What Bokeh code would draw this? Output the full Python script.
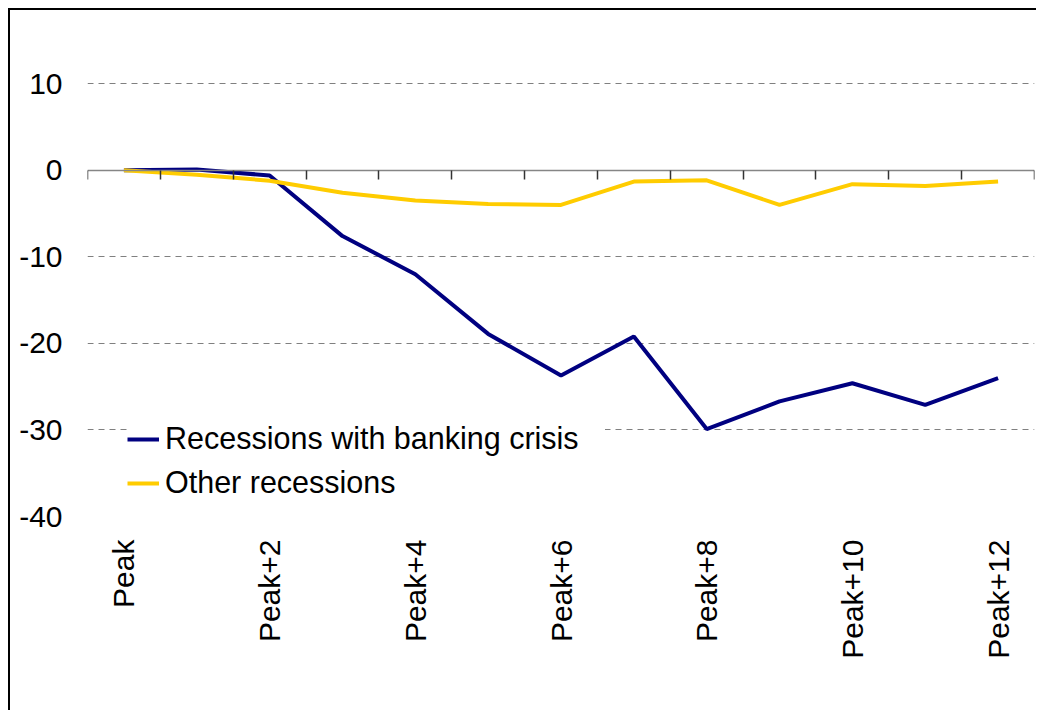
import math
from bokeh.plotting import figure
from bokeh.models import (Range1d, LinearAxis, FixedTicker, Legend, LegendItem)
from bokeh.embed import file_html
from bokeh.resources import INLINE

categories = ["Peak", "Peak+1", "Peak+2", "Peak+3", "Peak+4", "Peak+5", "Peak+6",
              "Peak+7", "Peak+8", "Peak+9", "Peak+10", "Peak+11", "Peak+12"]
banking_crisis = [0.0, 0.1, -0.6, -7.6, -12.0, -18.9, -23.7, -19.2, -29.9, -26.7, -24.6, -27.1, -24.0]
other_recessions = [0.0, -0.5, -1.2, -2.6, -3.5, -3.9, -4.0, -1.3, -1.15, -4.0, -1.6, -1.8, -1.3]
y_ticks = [-40, -30, -20, -10, 0, 10]
grid_ticks = [-40, -30, -20, -10, 10]

FONT = "Liberation Sans"
n = len(categories)
xs = [i + 0.5 for i in range(n)]

p = figure(width=1028, height=702, output_backend="svg", toolbar_location=None,
           x_range=Range1d(0, n), y_range=Range1d(-40, 15),
           x_axis_location=None, y_axis_location=None,
           min_border_left=77, min_border_right=4, min_border_top=30, min_border_bottom=196)
p.styles = {"border-left": "2px solid black", "border-top": "2px solid black",
            "margin-left": "8px", "margin-top": "8px"}
p.outline_line_color = None
p.background_fill_color = "white"
p.border_fill_color = "white"

# y axis (labels only)
yax = LinearAxis(ticker=FixedTicker(ticks=y_ticks),
                 major_label_overrides={v: str(v) for v in y_ticks})
yax.axis_line_color = None
yax.major_tick_line_color = None
yax.minor_tick_line_color = None
yax.major_label_standoff = 19
yax.major_label_text_font = FONT
yax.major_label_text_font_size = "30px"
yax.major_label_text_color = "black"
p.add_layout(yax, "left")

# x axis (labels only, every other category)
label_ticks = [xs[i] for i in range(0, n, 2)]
overrides = {xs[i]: categories[i] for i in range(n)}
xax = LinearAxis(ticker=FixedTicker(ticks=label_ticks), major_label_overrides=overrides)
xax.axis_line_color = None
xax.major_tick_line_color = None
xax.minor_tick_line_color = None
xax.major_label_orientation = math.pi / 2
xax.major_label_standoff = 17
xax.major_label_text_font = FONT
xax.major_label_text_font_size = "30px"
xax.major_label_text_color = "black"
p.add_layout(xax, "below")

# zero axis line with boundary ticks
zax = LinearAxis(ticker=FixedTicker(ticks=list(range(n + 1))), fixed_location=0)
zax.axis_line_color = "#868686"
zax.axis_line_width = 1.5
zax.major_tick_line_color = "#333333"
zax.major_tick_line_width = 1.5
zax.major_tick_out = 9
zax.major_tick_in = 0
zax.minor_tick_line_color = None
zax.major_label_text_font_size = "0px"
zax.major_label_text_alpha = 0
p.add_layout(zax, "below")

# grid
p.xgrid.visible = False
p.ygrid.ticker = FixedTicker(ticks=grid_ticks)
p.ygrid.grid_line_color = "#808080"
p.ygrid.grid_line_dash = "6 5"
p.ygrid.grid_line_width = 1

r1 = p.line(xs, banking_crisis, line_color="#000080", line_width=4)
r2 = p.line(xs, other_recessions, line_color="#FFCC00", line_width=4)

legend = Legend(items=[LegendItem(label="Recessions with banking crisis", renderers=[r1]),
                       LegendItem(label="Other recessions", renderers=[r2])],
                location=(40, 16))
legend.background_fill_color = "white"
legend.background_fill_alpha = 1
legend.border_line_color = None
legend.padding = 12
legend.spacing = 9
legend.glyph_width = 32
legend.glyph_height = 34
legend.label_height = 34
legend.label_standoff = 6
legend.label_width = 440
legend.label_text_font = FONT
legend.label_text_font_size = "30.5px"
legend.label_text_color = "black"
legend.margin = 0
p.add_layout(legend, "center")

open("out.html", "w").write(file_html(p, INLINE))
